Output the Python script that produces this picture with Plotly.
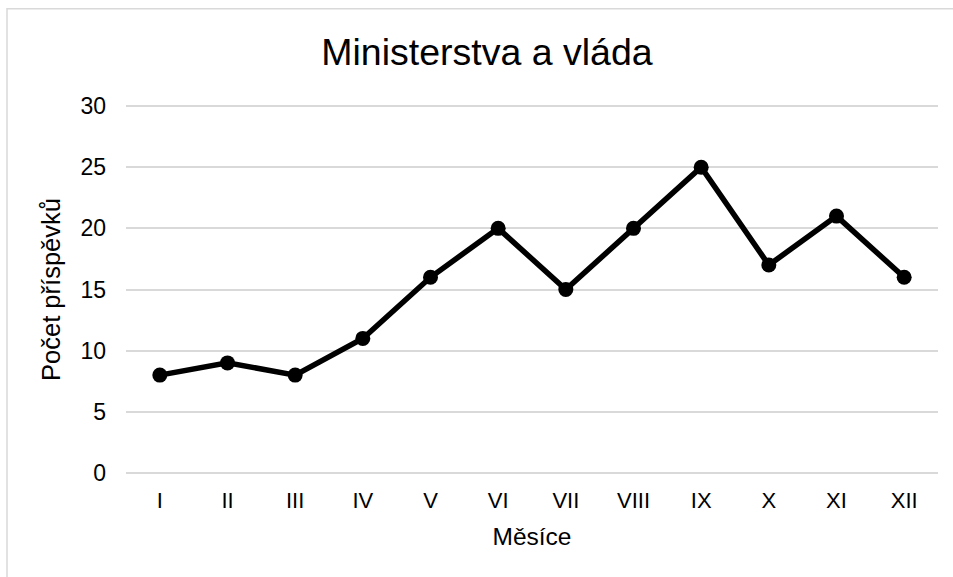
import plotly.graph_objects as go

months = ["I", "II", "III", "IV", "V", "VI", "VII", "VIII", "IX", "X", "XI", "XII"]
counts = [8, 9, 8, 11, 16, 20, 15, 20, 25, 17, 21, 16]
y_ticks = [0, 5, 10, 15, 20, 25, 30]

title_text = "Ministerstva a vláda"
x_title = "Měsíce"
y_title = "Počet příspěvků"

FONT = "Liberation Sans, Arial, sans-serif"

W, H = 953, 577
pad = 0.25
k = 366 / 30.0
L, R = 126, 15
T = 106.5 - pad * k
B = H - (472.5 + pad * k)
pw = W - L - R
ph = H - T - B

fig = go.Figure()
fig.add_trace(go.Scatter(
    x=months, y=counts, mode="lines+markers",
    line=dict(color="#000000", width=5.5),
    marker=dict(color="#000000", size=15),
    showlegend=False,
    hoverinfo="x+y",
))

# chart-area border (extends past the canvas on right/bottom)
bx0 = (7 - L) / pw
bx1 = (W + 20 - L) / pw
by1 = (H - B - 9.5) / ph
by0 = (H - B - (H + 20)) / ph
fig.add_shape(type="rect", xref="paper", yref="paper",
              x0=bx0, x1=bx1, y0=by0, y1=by1,
              line=dict(color="#d9d9d9", width=1.5), layer="below")

fig.update_layout(
    width=W, height=H,
    margin=dict(l=L, r=R, t=T, b=B, autoexpand=False),
    paper_bgcolor="white", plot_bgcolor="white",
    font=dict(family=FONT, color="#000000", size=24),
    title=dict(text=title_text, x=487 / W, xanchor="center",
               y=1 - 52 / H, yanchor="middle", yref="container",
               font=dict(size=37.5, family=FONT, color="#000000")),
)
fig.update_xaxes(
    type="category", categoryorder="array", categoryarray=months,
    range=[-0.5, len(months) - 0.5],
    showgrid=False, showline=False, zeroline=False,
    ticks="", tickfont=dict(size=22, family=FONT, color="#000000"),
    ticklabelstandoff=9,
    title=dict(text=x_title, standoff=15, font=dict(size=24.5, family=FONT, color="#000000")),
    automargin=False,
)
fig.update_yaxes(
    range=[0 - pad, 30 + pad], tickvals=y_ticks, ticktext=[str(v) for v in y_ticks],
    showgrid=True, gridcolor="#d9d9d9", gridwidth=1.5,
    showline=False, zeroline=False,
    ticks="", tickfont=dict(size=23, family=FONT, color="#000000"),
    ticklabelstandoff=19,
    title=dict(text=y_title, standoff=12, font=dict(size=25.5, family=FONT, color="#000000")),
    automargin=False,
)

fig.write_html("out.html", config={"displayModeBar": False},
               post_script="document.body.style.margin='0';document.body.style.overflow='hidden';")
